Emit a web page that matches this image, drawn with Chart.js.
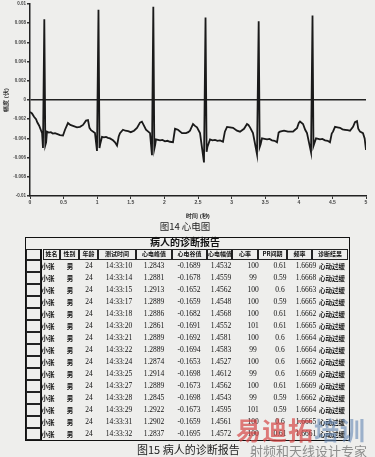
<!DOCTYPE html>
<html>
<head>
<meta charset="utf-8">
<script src="https://cdn.jsdelivr.net/npm/chart.js@4.4.1/dist/chart.umd.min.js"></script>
<style>
  body { margin: 0; width: 375px; height: 457px; background: #eeeeec; position: relative; overflow: hidden;
         font-family: "Noto Sans CJK SC", sans-serif; color: #111; }
  #ecgChart { position: absolute; left: 0; top: 0; }
  .abs { position: absolute; white-space: nowrap; }
  .cap { font-size: 9.5px; color: #222; }
  .num { font-family: "Liberation Serif", serif; font-size: 7.5px; transform: translateX(-50%); }
  .cn { font-size: 6.5px; font-weight: bold; transform: translateX(-50%); }
  .hd { box-sizing: border-box; border: 1px solid #222; font-size: 6px; font-weight: bold; text-align: center; line-height: 8px; }
  .box { box-sizing: border-box; border: 1px solid #222; }
</style>
</head>
<body>
<canvas id="ecgChart" width="375" height="220"></canvas>
<div class="abs cap" style="left:185px; top:219px; transform:translateX(-50%);">图14 心电图</div>
<div id="table"></div>
<div class="abs cap" style="left:137px; top:441px; font-size:11px;">图15 病人的诊断报告</div>
<div class="abs" style="left:236px; top:411px; font-size:25px; font-weight:bold; color:rgba(214,70,70,0.7); letter-spacing:1px;">易迪拓<span style="color:rgba(100,135,180,0.6);">培训</span></div>
<div class="abs" style="left:250px; top:441px; font-size:13px; color:rgba(110,110,110,0.75);">射频和天线设计专家</div>
<script>
// ECG trace (seconds, volts)
const ecgTimes = [
  0.000, 0.030, 0.060, 0.090, 0.110, 0.135, 0.160, 0.180, 0.193, 0.213, 0.228, 0.240, 0.253,
  0.280, 0.310, 0.340, 0.372, 0.410, 0.446, 0.491, 0.521, 0.565, 0.600, 0.640, 0.699, 0.744,
  0.789, 0.833, 0.863, 0.885, 0.908, 0.967, 0.997, 1.019, 1.034, 1.045, 1.071, 1.100, 1.131,
  1.160, 1.190, 1.235, 1.265, 1.295, 1.320, 1.339, 1.384, 1.420, 1.460, 1.500, 1.548, 1.592,
  1.637, 1.665, 1.690, 1.726, 1.786, 1.815, 1.835, 1.850, 1.862, 1.875, 1.905, 1.935, 1.970,
  2.009, 2.045, 2.083, 2.128, 2.158, 2.202, 2.262, 2.321, 2.355, 2.381, 2.426, 2.455, 2.485,
  2.530, 2.589, 2.612, 2.628, 2.640, 2.679, 2.715, 2.753, 2.790, 2.827, 2.872, 2.900, 2.932,
  2.975, 3.021, 3.080, 3.125, 3.185, 3.229, 3.250, 3.274, 3.318, 3.378, 3.403, 3.418, 3.432,
  3.452, 3.490, 3.527, 3.565, 3.601, 3.640, 3.676, 3.700, 3.720, 3.780, 3.839, 3.914, 3.945,
  3.973, 4.000, 4.018, 4.063, 4.095, 4.122, 4.182, 4.204, 4.218, 4.232, 4.256, 4.290, 4.315,
  4.350, 4.390, 4.430, 4.464, 4.490, 4.509, 4.539, 4.575, 4.613, 4.650, 4.688, 4.725, 4.762,
  4.807, 4.836, 4.866, 4.885, 4.911, 4.955, 4.980, 5.000
];
const ecgVolts = [
  -0.00125, -0.00140, -0.00175, -0.00200, -0.00235, -0.00265, -0.00310, -0.00345, -0.00500, 0.00840, -0.00470, -0.00440, -0.00330,
  -0.00340, -0.00335, -0.00350, -0.00345, -0.00355, -0.00365, -0.00370, -0.00310, -0.00240, -0.00260, -0.00270, -0.00285, -0.00280,
  -0.00260, -0.00215, -0.00210, -0.00290, -0.00315, -0.00345, -0.00530, 0.00940, -0.00500, -0.00460, -0.00385, -0.00390, -0.00385,
  -0.00395, -0.00400, -0.00420, -0.00440, -0.00475, -0.00380, -0.00345, -0.00310, -0.00320, -0.00325, -0.00335, -0.00320, -0.00290,
  -0.00235, -0.00225, -0.00260, -0.00310, -0.00345, -0.00575, 0.00970, -0.00510, -0.00470, -0.00410, -0.00415, -0.00420, -0.00415,
  -0.00430, -0.00425, -0.00435, -0.00440, -0.00300, -0.00310, -0.00345, -0.00345, -0.00335, -0.00320, -0.00250, -0.00270, -0.00285,
  -0.00345, -0.00650, 0.00860, -0.00540, -0.00490, -0.00410, -0.00420, -0.00415, -0.00425, -0.00420, -0.00435, -0.00330, -0.00280,
  -0.00285, -0.00290, -0.00320, -0.00330, -0.00300, -0.00250, -0.00260, -0.00285, -0.00345, -0.00565, 0.00820, -0.00490, -0.00460,
  -0.00400, -0.00405, -0.00410, -0.00405, -0.00420, -0.00425, -0.00440, -0.00340, -0.00330, -0.00320, -0.00330, -0.00330, -0.00310,
  -0.00295, -0.00240, -0.00225, -0.00250, -0.00310, -0.00345, -0.00545, 0.00880, -0.00480, -0.00450, -0.00400, -0.00405, -0.00410,
  -0.00405, -0.00420, -0.00425, -0.00440, -0.00350, -0.00330, -0.00280, -0.00285, -0.00290, -0.00305, -0.00310, -0.00315, -0.00320,
  -0.00280, -0.00230, -0.00220, -0.00300, -0.00330, -0.00345, -0.00400, -0.00520
];
const xTicks = [0, 0.5, 1, 1.5, 2, 2.5, 3, 3.5, 4, 4.5, 5];
const yTicks = [-0.01, -0.008, -0.006, -0.004, -0.002, 0, 0.002, 0.004, 0.006, 0.008, 0.01];

// diagnosis report table
const headers = ['姓名', '性别', '年龄', '测试时间', '心电峰值', '心电谷值', '心电幅值', '心率', 'PR间期', '频率', '诊断结果'];
const names = Array(15).fill('小张');
const genders = Array(15).fill('男');
const ages = Array(15).fill('24');
const testTimes = ['14:33:10', '14:33:14', '14:33:15', '14:33:17', '14:33:18', '14:33:20', '14:33:21', '14:33:22',
                   '14:33:24', '14:33:25', '14:33:27', '14:33:28', '14:33:29', '14:33:31', '14:33:32'];
const peaks = ['1.2843', '1.2881', '1.2913', '1.2889', '1.2886', '1.2861', '1.2889', '1.2889',
               '1.2874', '1.2914', '1.2889', '1.2845', '1.2922', '1.2902', '1.2837'];
const valleys = ['-0.1689', '-0.1678', '-0.1652', '-0.1659', '-0.1682', '-0.1691', '-0.1692', '-0.1694',
                 '-0.1653', '-0.1698', '-0.1673', '-0.1698', '-0.1673', '-0.1659', '-0.1695'];
const amps = ['1.4532', '1.4559', '1.4562', '1.4548', '1.4568', '1.4552', '1.4581', '1.4583',
              '1.4527', '1.4612', '1.4562', '1.4543', '1.4595', '1.4561', '1.4572'];
const rates = ['100', '99', '100', '100', '100', '101', '100', '99', '100', '99', '100', '99', '101', '100', '100'];
const prs = ['0.61', '0.59', '0.6', '0.59', '0.61', '0.61', '0.6', '0.6', '0.6', '0.6', '0.61', '0.59', '0.59', '0.6', '0.61'];
const freqs = ['1.6669', '1.6668', '1.6663', '1.6665', '1.6662', '1.6665', '1.6664', '1.6664',
               '1.6662', '1.6669', '1.6669', '1.6662', '1.6664', '1.6665', '1.6661'];
const results = Array(15).fill('心动过缓');

function buildTable() {
  const root = document.getElementById('table');
  const add = (cls, style, text) => {
    const d = document.createElement('div');
    d.className = 'abs ' + cls;
    d.setAttribute('style', style);
    if (text) d.textContent = text;
    root.appendChild(d);
  };
  add('box', 'left:25px;top:237px;width:325px;height:204px;border-width:1.5px;border-color:#111;');
  add('', 'left:185px;top:236px;transform:translateX(-50%);font-size:10px;font-weight:bold;line-height:12px;', '病人的诊断报告');

  const edges = [43, 60, 79, 98, 136, 172, 207, 232, 258, 287, 312, 348];
  headers.forEach((h, i) => {
    add('hd', `left:${edges[i]}px;top:249px;width:${edges[i + 1] - edges[i]}px;height:11px;`, h);
  });
  add('box', 'left:26px;top:249px;width:15px;height:11px;');
  add('', 'left:40px;top:249px;width:2px;height:191px;background:#111;');

  const centers = [48, 70, 89, 119, 154, 189, 221, 253, 280, 306, 332];
  const cols = [names, genders, ages, testTimes, peaks, valleys, amps, rates, prs, freqs, results];
  const cnCols = [0, 1, 10];
  for (let r = 0; r < 15; r++) {
    const top = 260 + r * 12;
    add('box', `left:26px;top:${top}px;width:15px;height:12px;`);
    cols.forEach((col, c) => {
      const cls = cnCols.includes(c) ? 'cn' : 'num';
      add(cls, `left:${centers[c]}px;top:${top}px;line-height:12px;`, col[r]);
    });
  }
}
buildTable();

new Chart(document.getElementById('ecgChart'), {
  type: 'line',
  data: {
    datasets: [{
      data: ecgTimes.map((t, i) => ({ x: t, y: ecgVolts[i] })),
      borderColor: '#1a1a1a',
      borderWidth: 1.8,
      pointRadius: 0,
      tension: 0,
      fill: false,
    }],
  },
  options: {
    responsive: false,
    animation: false,
    layout: { padding: { top: 4, right: 9, left: 0, bottom: 0 } },
    plugins: { legend: { display: false }, tooltip: { enabled: false } },
    scales: {
      x: {
        type: 'linear', min: 0, max: 5,
        afterBuildTicks: s => { s.ticks = xTicks.map(v => ({ value: v })); },
        afterFit: s => { s.height = 24; },
        grid: { drawOnChartArea: false, tickLength: 3, color: '#333' },
        border: { color: '#222', width: 1.5 },
        ticks: { font: { size: 5, weight: 'bold' }, color: '#444', padding: 1, maxRotation: 0, callback: v => String(v) },
        title: { display: true, text: '时间 (秒)', font: { size: 6, weight: 'bold' }, color: '#333', padding: 0 },
      },
      y: {
        min: -0.01, max: 0.01,
        afterBuildTicks: s => { s.ticks = yTicks.map(v => ({ value: v })); },
        afterFit: s => { s.width = 30; },
        grid: {
          color: ctx => (ctx.tick && ctx.tick.value === 0 ? '#222' : 'rgba(0,0,0,0)'),
          lineWidth: 1.5, tickColor: '#333', tickLength: 3,
        },
        border: { color: '#222', width: 1.5 },
        ticks: { font: { size: 4.5, weight: 'bold' }, color: '#444', padding: 1, callback: v => String(v) },
        title: { display: true, text: '幅度 (伏)', font: { size: 6, weight: 'bold' }, color: '#333', padding: { top: 3, bottom: 0 } },
      },
    },
  },
});
</script>
</body>
</html>
